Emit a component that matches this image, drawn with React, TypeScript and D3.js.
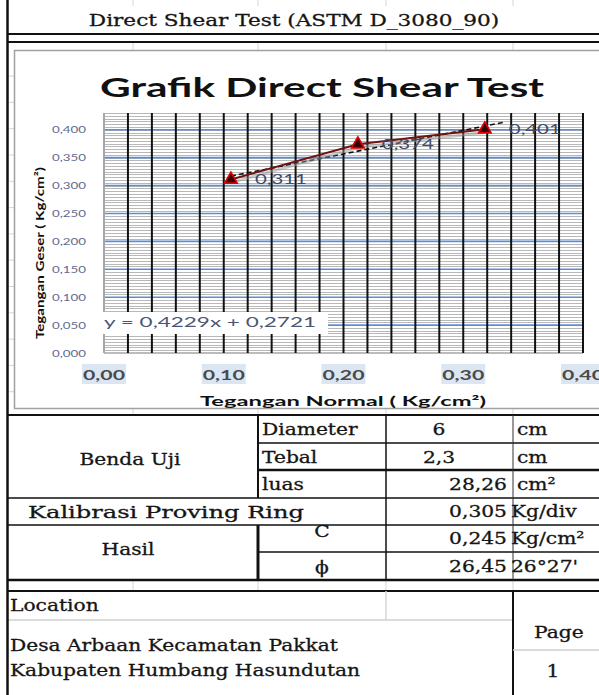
import { useEffect, useRef } from "react";
import * as d3 from "d3";

const WIDTH = 599;
const HEIGHT = 695;

// test points (normal stress vs shear stress)
const normalStress = [0.106, 0.212, 0.318];
const shearStress = [0.311, 0.374, 0.401];
const pointLabels = ["0,311", "0,374", "0,401"];

// linear trendline from the sheet
const trendSlope = 0.4229;
const trendIntercept = 0.2721;
const trendRange = [0.106, 0.335];
const equationLabel = "y = 0,4229x + 0,2721";

const yTickValues = [0, 0.05, 0.1, 0.15, 0.2, 0.25, 0.3, 0.35, 0.4];
const xTickValues = [0, 0.1, 0.2, 0.3, 0.4];

// table below the chart
const specimenLabels = ["Diameter", "Tebal", "luas"];
const specimenValues = ["6", "2,3", "28,26"];
const specimenUnits = ["cm", "cm", "cm²"];
const ringValue = "0,305";
const ringUnit = "Kg/div";
const resultSymbols = ["C", "ϕ"];
const resultValues = ["0,245", "26,45"];
const resultUnits = [" Kg/cm²", "26°27'"];

const SX = 1.19;

function App() {
  const svgRef = useRef(null);

  useEffect(() => {
    draw();
  }, []);

  const draw = () => {
    const svg = d3.select(svgRef.current);
    svg.selectAll("*").remove();

    svg.append("rect").attr("width", WIDTH).attr("height", HEIGHT).attr("fill", "#fff");

    const line = (x1, y1, x2, y2, color = "#111", w = 1.5) =>
      svg.append("line")
        .attr("x1", x1).attr("y1", y1).attr("x2", x2).attr("y2", y2)
        .attr("stroke", color).attr("stroke-width", w);

    const serif = (x, y, str, anchor = "start", size = 17, sx = SX) =>
      svg.append("text")
        .attr("transform", `translate(${x},${y}) scale(${sx},1)`)
        .attr("text-anchor", anchor)
        .attr("font-family", "DejaVu Serif")
        .attr("font-size", size)
        .attr("fill", "#151515")
        .attr("stroke", "#151515").attr("stroke-width", 0.3)
        .text(str);

    const sans = (x, y, str, opts) => {
      const t = svg.append("text")
        .attr("x", x).attr("y", y)
        .attr("text-anchor", opts.anchor || "start")
        .attr("font-family", "Lato")
        .attr("font-size", opts.size)
        .attr("font-weight", opts.weight || "normal")
        .attr("fill", opts.fill || "#111")
        .text(str);
      if (opts.len) t.attr("textLength", opts.len).attr("lengthAdjust", "spacingAndGlyphs");
      return t;
    };

    // faint spreadsheet cell lines
    const faint = "#d6d6d6";
    [133, 258, 386, 513].forEach(cx => {
      line(cx, 0, cx, 6, faint, 1);
      line(cx, 42, cx, 50, faint, 1);
      line(cx, 409, cx, 414, faint, 1);
      line(cx, 580, cx, 591, faint, 1);
    });
    d3.range(-4, 10).map(k => 155 + k * 26.3).filter(v => v > 50 && v < 409)
      .forEach(ry => line(9, ry, 14, ry, faint, 1));

    // header
    serif(294, 26, "Direct Shear Test (ASTM D_3080_90)", "middle", 17, 1.27);
    line(7, 34, WIDTH, 34, "#111", 2);
    line(7, 42, WIDTH, 42, "#111", 2);

    // chart frame
    svg.append("rect")
      .attr("x", 14.5).attr("y", 50.5).attr("width", 620).attr("height", 358)
      .attr("fill", "#fff").attr("stroke", "#a0a0a0").attr("stroke-width", 1.5);

    sans(322, 97, "Grafik Direct Shear Test", { size: 27, weight: "bold", anchor: "middle", len: 444 });

    const xScale = d3.scaleLinear().domain([0, 0.4]).range([104, 583]);
    const yScale = d3.scaleLinear().domain([0, 0.43]).range([353, 113]);

    // minor horizontal grid
    d3.range(0.005, 0.4301, 0.005).forEach(v => {
      const yy = Math.round(yScale(v)) + 0.5;
      line(104, yy, 583, yy, "#b8b8b8", 1);
    });
    // major horizontal grid
    yTickValues.filter(v => v > 0).forEach(v => {
      line(104, yScale(v), 583, yScale(v), "#5b8ed6", 1.6);
    });
    line(104, yScale(0), 583, yScale(0), "#a6a6a6", 1.5);

    // vertical grid every 0.02
    d3.range(1, 21).map(i => i * 0.02).forEach(v => {
      line(xScale(v), 113, xScale(v), 353, "#111", 2);
    });
    line(xScale(0), 113, xScale(0), 353, "#a6a6a6", 2);

    // equation label box
    svg.append("rect").attr("x", 100).attr("y", 312).attr("width", 228).attr("height", 22).attr("fill", "#fff");
    sans(104, 327, equationLabel, { size: 13.5, fill: "#4a5676", len: 212 });

    // y tick labels
    yTickValues.forEach(v => {
      sans(86, yScale(v) + 3.5, d3.format(".3f")(v).replace(".", ","), { size: 10, anchor: "end", fill: "#5b6b92", len: 34 });
    });

    // x tick labels with shaded background
    xTickValues.forEach(v => {
      svg.append("rect").attr("x", xScale(v) - 22).attr("y", 364).attr("width", 44).attr("height", 20).attr("fill", "#dce6f2");
      sans(xScale(v), 380, d3.format(".2f")(v).replace(".", ","), { size: 14, weight: "bold", anchor: "middle", fill: "#4a4a4a", len: 42 });
    });

    // axis titles
    svg.append("text")
      .attr("transform", "translate(44,253) rotate(-90)")
      .attr("text-anchor", "middle")
      .attr("font-family", "Lato").attr("font-weight", "bold").attr("font-size", 12)
      .attr("textLength", 172).attr("lengthAdjust", "spacingAndGlyphs")
      .attr("fill", "#111")
      .text("Tegangan  Geser  ( Kg/cm²)");
    sans(200, 406, "Tegangan  Normal ( Kg/cm²)", { size: 14, weight: "bold", len: 286 });

    // trendline
    svg.append("line")
      .attr("x1", xScale(trendRange[0])).attr("y1", yScale(trendSlope * trendRange[0] + trendIntercept))
      .attr("x2", xScale(trendRange[1])).attr("y2", yScale(trendSlope * trendRange[1] + trendIntercept))
      .attr("stroke", "#111").attr("stroke-width", 1.6).attr("stroke-dasharray", "5,3");

    // series line
    const pts = normalStress.map((d, i) => [d, shearStress[i]]);
    const path = d3.line().x(d => xScale(d[0])).y(d => yScale(d[1]));
    svg.append("path").datum(pts).attr("d", path).attr("fill", "none")
      .attr("stroke", "#999").attr("stroke-opacity", 0.5).attr("stroke-width", 3)
      .attr("transform", "translate(1,3)");
    svg.append("path").datum(pts).attr("d", path).attr("fill", "none")
      .attr("stroke", "#6e1212").attr("stroke-width", 2);

    // markers
    const tri = d3.symbol().type(d3.symbolTriangle).size(70);
    pts.forEach(p => {
      svg.append("path").attr("d", tri())
        .attr("transform", `translate(${xScale(p[0])},${yScale(p[1])})`)
        .attr("fill", "#3a0000").attr("stroke", "#e00000").attr("stroke-width", 1.6);
    });

    // data labels
    pts.forEach((p, i) => {
      sans(xScale(p[0]) + 24, yScale(p[1]) + 5, pointLabels[i], { size: 13, fill: "#404a6a", len: 52 });
    });

    // ---- table ----
    const c0 = 7, c1 = 258, c2 = 386, c3 = 513;
    const r = [415, 443, 470, 498, 525, 552, 580];

    line(c0, r[0], WIDTH, r[0], "#111", 2);
    line(c1, r[1], WIDTH, r[1], "#111", 1.5);
    line(c1, r[2], WIDTH, r[2], "#111", 2.5);
    line(c0, r[3], WIDTH, r[3], "#111", 1.5);
    line(c0, r[4], WIDTH, r[4], "#111", 1.5);
    line(c1, r[5], WIDTH, r[5], "#111", 1.5);
    line(c0, r[6], WIDTH, r[6], "#111", 2.5);
    line(c1, r[0], c1, r[3], "#111", 2);
    line(c1, r[4], c1, r[6], "#111", 3);
    line(c2, r[0], c2, r[6], "#111", 1.5);
    line(c3, r[0], c3, r[6], "#333", 1);

    serif(130, 465, "Benda Uji", "middle");
    specimenLabels.forEach((s, i) => {
      const base = (r[i] + r[i + 1]) / 2 + 6;
      serif(262, base, s);
      if (i < 2) serif(439, base, specimenValues[i], "middle");
      else serif(507, base, specimenValues[i], "end");
      serif(517, base, specimenUnits[i]);
    });

    svg.append("text")
      .attr("x", 28).attr("y", 518)
      .attr("font-family", "DejaVu Serif").attr("font-size", 17)
      .attr("fill", "#151515").attr("stroke", "#151515").attr("stroke-width", 0.3)
      .attr("textLength", 276).attr("lengthAdjust", "spacingAndGlyphs")
      .text("Kalibrasi  Proving Ring");
    serif(507, 517, ringValue, "end");
    serif(511, 517, ringUnit);

    serif(128, 555, "Hasil", "middle");
    serif(322, 537, resultSymbols[0], "middle");
    serif(322, 573, resultSymbols[1], "middle");
    serif(507, 544, resultValues[0], "end");
    serif(511, 544, resultUnits[0]);
    serif(507, 572, resultValues[1], "end");
    serif(511, 572, resultUnits[1]);

    // location block
    line(c0, 591, WIDTH, 591, "#111", 2);
    line(386, 591, 386, 620, faint, 1.5);
    line(c0, 620, c3, 620, "#cfcfcf", 1.5);
    line(c3, 591, c3, HEIGHT, "#111", 2);
    line(c3, 650, WIDTH, 650, "#cfcfcf", 1.5);

    serif(10, 611, "Location");
    serif(10, 651, "Desa Arbaan Kecamatan Pakkat");
    serif(10, 676, "Kabupaten Humbang Hasundutan");
    serif(534, 638, "Page");
    serif(553, 677, "1", "middle");

    // left border
    line(7.5, 0, 7.5, HEIGHT, "#111", 2.5);
  };

  return (
    <div style={{ position: "absolute", left: 0, top: 0 }}>
      <svg width={WIDTH} height={HEIGHT} ref={svgRef}></svg>
    </div>
  );
}

export default App;
